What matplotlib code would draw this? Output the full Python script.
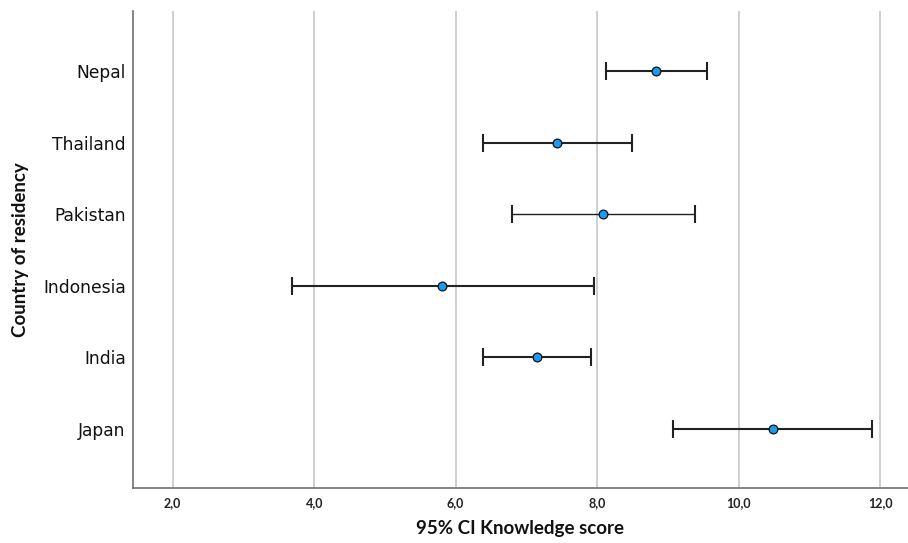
import matplotlib
matplotlib.use("Agg")
import matplotlib.pyplot as plt
import numpy as np

# Data (top to bottom as shown)
countries = ["Nepal", "Thailand", "Pakistan", "Indonesia", "India", "Japan"]
means = [8.83, 7.44, 8.09, 5.81, 7.15, 10.49]
lower = [8.12, 6.39, 6.79, 3.68, 6.39, 9.08]
upper = [9.55, 8.49, 9.38, 7.95, 7.92, 11.89]
xticks = [2.0, 4.0, 6.0, 8.0, 10.0, 12.0]
xticklabels = ["2,0", "4,0", "6,0", "8,0", "10,0", "12,0"]

W, H = 908, 543
fig = plt.figure(figsize=(W / 100, H / 100), dpi=100)
ax = fig.add_axes([132.7 / W, (H - 488.3) / H, (908 - 132.7) / W, (488.3 - 11) / H])

n = len(countries)
ypos = np.arange(n)[::-1]  # Nepal on top

for i, (c, m, lo, hi) in enumerate(zip(countries, means, lower, upper)):
    lw = 1.0 if c == "Pakistan" else 1.5
    ax.errorbar([m], [ypos[i]], xerr=[[m - lo], [hi - m]], fmt="none",
                ecolor="#222222", elinewidth=lw, capsize=6.5, capthick=1.5, zorder=3)
    ax.plot([m], [ypos[i]], "o", ms=6.3, mfc="#1a9bf0", mec="#111111", mew=0.9, zorder=4)

ax.set_xlim(1.434, 12.396)
ax.set_ylim(-0.828, 5.838)
ax.set_xticks(xticks)
ax.set_xticklabels(xticklabels, fontsize=9, fontfamily="Lato", fontweight="bold", color="#222222")
ax.set_yticks(ypos)
ax.set_yticklabels(countries, fontsize=12.3, fontfamily="DejaVu Sans", color="#111111")
ax.tick_params(axis="both", length=0)
ax.tick_params(axis="x", pad=6)
ax.tick_params(axis="y", pad=5)

ax.grid(axis="x", color="#cccccc", linewidth=1.3, zorder=0)
ax.set_axisbelow(True)
for s in ["top", "right"]:
    ax.spines[s].set_visible(False)
for s in ["left", "bottom"]:
    ax.spines[s].set_color("#707070")
    ax.spines[s].set_linewidth(1.2)

ax.set_xlabel("95% CI Knowledge score", fontsize=13.5, fontfamily="Lato",
              fontweight="bold", color="#111111", labelpad=8)
ax.set_ylabel("Country of residency", fontsize=13.5, fontfamily="Lato",
              fontweight="bold", color="#111111", labelpad=10)

fig.savefig("out.png", dpi=100)
